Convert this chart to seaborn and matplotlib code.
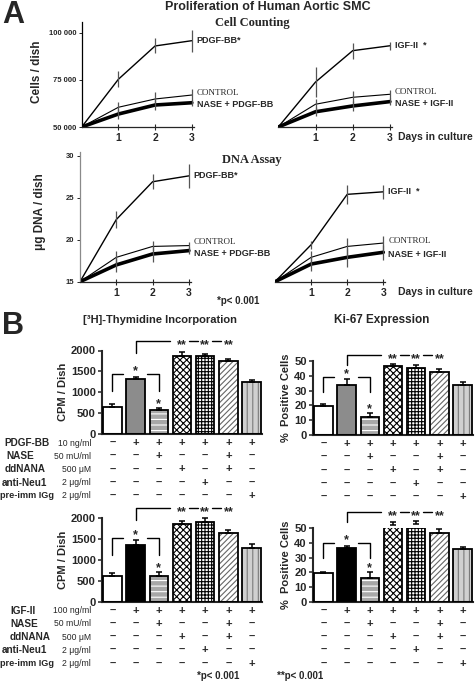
import numpy as np
import pandas as pd
import matplotlib
matplotlib.use("Agg")
import matplotlib.pyplot as plt
import matplotlib.transforms as mtrans
import seaborn as sns

# ---------------- data ----------------
days = [0, 1, 2, 3]

# A: cell counting (cells / dish)
cells_pdgf = [50000, 75400, 93100, 95900]
cells_pdgf_err = [0, 4300, 4000, 5800]
cells_ctrl_a = [50000, 60500, 64900, 67000]
cells_ctrl_a_err = [0, 3000, 3500, 3000]
cells_nase_pdgf = [50000, 56900, 61700, 62900]
cells_nase_pdgf_err = [0, 2500, 2500, 1500]

cells_igf = [50000, 73900, 90600, 93200]
cells_igf_err = [0, 8000, 4300, 2100]
cells_ctrl_b = [50000, 62100, 65800, 67400]
cells_ctrl_b_err = [0, 3000, 3500, 2500]
cells_nase_igf = [50000, 58100, 61200, 63500]
cells_nase_igf_err = [0, 2500, 2500, 2000]

# A: DNA assay (ug DNA / dish)
dna_pdgf = [15, 22.4, 26.9, 27.6]
dna_pdgf_err = [0, 1.05, 0.9, 1.4]
dna_ctrl_a = [15, 17.9, 19.2, 19.3]
dna_ctrl_a_err = [0, 0.8, 0.6, 0.4]
dna_nase_pdgf = [15, 17.0, 18.3, 18.7]
dna_nase_pdgf_err = [0, 0.8, 0.9, 0.4]

dna_igf = [15, 19.4, 25.4, 25.7]
dna_igf_err = [0, 0.5, 1.1, 0.8]
dna_ctrl_b = [15, 17.9, 19.2, 19.6]
dna_ctrl_b_err = [0, 0.8, 1.0, 0.8]
dna_nase_igf = [15, 17.1, 17.9, 18.5]
dna_nase_igf_err = [0, 0.8, 1.1, 0.9]

# B: bar charts, 7 conditions
thy_pdgf = [655, 1320, 583, 1880, 1880, 1743, 1240]
thy_pdgf_err = [65, 56, 48, 96, 32, 57, 56]
ki_pdgf = [19.6, 33.8, 12.4, 46.6, 45.5, 42.8, 33.8]
ki_pdgf_err = [1.2, 3.8, 2.3, 1.4, 1.8, 1.8, 2.3]
thy_igf = [620, 1370, 620, 1865, 1920, 1640, 1280]
thy_igf_err = [75, 100, 95, 80, 80, 75, 100]
ki_igf = [19.4, 36.4, 16.4, 52.3, 53.0, 46.6, 35.7]
ki_igf_err = [0.8, 1.8, 3.6, 1.8, 2.0, 2.8, 1.4]

# treatment table under the bars
growth_factor = ["-", "+", "+", "+", "+", "+", "+"]
nase = ["-", "-", "+", "-", "-", "+", "-"]
ddnana = ["-", "-", "-", "+", "-", "+", "-"]
anti_neu1 = ["-", "-", "-", "-", "+", "-", "-"]
pre_imm = ["-", "-", "-", "-", "-", "-", "+"]

names_pdgf = ["PDGF-BB", "NASE", "ddNANA", "anti-Neu1", "pre-imm IGg"]
concs_pdgf = ["10 ng/ml", "50 mU/ml", "500 \u03bcM", "2 \u03bcg/ml", "2 \u03bcg/ml"]
names_igf = ["IGF-II", "NASE", "ddNANA", "anti-Neu1", "pre-imm IGg"]
concs_igf = ["100 ng/ml", "50 mU/ml", "500 \u03bcM", "2 \u03bcg/ml", "2 \u03bcg/ml"]

# ---------------- style ----------------
sns.set_style("ticks")
SANS = ["Liberation Sans", "DejaVu Sans"]
SERIF = ["Liberation Serif", "DejaVu Serif"]
plt.rcParams["font.family"] = SANS
plt.rcParams["font.weight"] = "bold"
plt.rcParams["hatch.linewidth"] = 0.8

W, H = 475, 682
fig = plt.figure(figsize=(W / 100, H / 100), dpi=100)


def px_axes(x0, y_top, x1, y_bot):
    return fig.add_axes([x0 / W, 1 - y_bot / H, (x1 - x0) / W, (y_bot - y_top) / H])


def fx(x):
    return x / W


def fy(y):
    return 1 - y / H


# ---------------- panel A ----------------
def growth_panel(ax, series, ylim, yticks=None, yticklabels=None, spine_color="black"):
    for vals, errs, label, lw, fam, dy in series:
        sns.lineplot(x=days, y=vals, ax=ax, color="black", lw=lw, legend=False)
        ax.errorbar(days[1:], vals[1:], yerr=errs[1:], fmt="none",
                    ecolor="#555555", elinewidth=0.9, capsize=0, clip_on=False)
        ax.annotate(label, xy=(3, vals[-1]), xytext=(3.5, dy), textcoords="offset points",
                    va="center", ha="left", family=fam, size=6.5,
                    weight="normal" if fam is SERIF else "bold",
                    annotation_clip=False)
    ax.set_xlim(0, 3.05)
    ax.set_ylim(*ylim)
    ax.set_xticks([1, 2, 3])
    ax.set_xticklabels(["1", "2", "3"], size=7.5, weight="bold")
    ax.tick_params(axis="x", direction="inout", length=5, width=0.8, pad=2)
    ax.spines["top"].set_visible(False)
    ax.spines["right"].set_visible(False)
    ax.spines["bottom"].set_linewidth(0.9)
    if yticks is None:
        ax.spines["left"].set_visible(False)
        ax.set_yticks([])
    else:
        ax.spines["left"].set_color(spine_color)
        ax.spines["left"].set_linewidth(0.9)
        ax.set_yticks(yticks)
        ax.set_yticklabels(yticklabels, size=5.5, weight="bold")
        ax.tick_params(axis="y", length=2.5, width=0.7, pad=1.5)
    ax.set_xlabel("")
    ax.set_ylabel("")


axA1 = px_axes(81.7, 21.7, 81.7 + 3.05 * 36.7, 127)
growth_panel(axA1, [
    (cells_pdgf, cells_pdgf_err, "PDGF-BB*", 1.0, SANS, 0),
    (cells_ctrl_a, cells_ctrl_a_err, "CONTROL", 0.8, SERIF, 1.5),
    (cells_nase_pdgf, cells_nase_pdgf_err, "NASE + PDGF-BB", 2.6, SANS, -1),
], (50000, 106000), [50000, 75000, 100000], ["50 000", "75 000", "100 000"])

axA2 = px_axes(278.3, 21.7, 278.3 + 3.05 * 37.2, 127)
growth_panel(axA2, [
    (cells_igf, cells_igf_err, "IGF-II  *", 1.0, SANS, 0),
    (cells_ctrl_b, cells_ctrl_b_err, "CONTROL", 0.8, SERIF, 1.5),
    (cells_nase_igf, cells_nase_igf_err, "NASE + IGF-II", 2.6, SANS, -1),
], (50000, 106000))

axA3 = px_axes(80, 151.5, 80 + 3.05 * 36.3, 281.7)
growth_panel(axA3, [
    (dna_pdgf, dna_pdgf_err, "PDGF-BB*", 1.0, SANS, 0),
    (dna_ctrl_a, dna_ctrl_a_err, "CONTROL", 0.8, SERIF, 2.5),
    (dna_nase_pdgf, dna_nase_pdgf_err, "NASE + PDGF-BB", 2.6, SANS, -2),
], (15, 30.5), [15, 20, 25, 30], ["15", "20", "25", "30"], spine_color="#8a8a8a")

axA4 = px_axes(275, 151.5, 275 + 3.05 * 36.1, 281.7)
growth_panel(axA4, [
    (dna_igf, dna_igf_err, "IGF-II  *", 1.0, SANS, 0),
    (dna_ctrl_b, dna_ctrl_b_err, "CONTROL", 0.8, SERIF, 1.5),
    (dna_nase_igf, dna_nase_igf_err, "NASE + IGF-II", 2.6, SANS, -1.5),
], (15, 30.5))

fig.text(fx(2), fy(15), "A", size=22, weight="bold", va="center", ha="left")
fig.text(fx(268), fy(7), "Proliferation of Human Aortic SMC", size=9, weight="bold",
         ha="center", va="center")
fig.text(fx(252), fy(23), "Cell Counting", family=SERIF, size=9, weight="bold",
         ha="center", va="center")
fig.text(fx(252), fy(160), "DNA Assay", family=SERIF, size=9, weight="bold",
         ha="center", va="center")
fig.text(fx(37), fy(72), "Cells / dish", size=8.5, weight="bold",
         rotation=90, ha="center", va="center")
fig.text(fx(40), fy(212), "\u03bcg DNA / dish", size=8.5, weight="bold",
         rotation=90, ha="center", va="center")
fig.text(fx(473), fy(137), "Days in culture", size=7.5, weight="bold",
         ha="right", va="center")
fig.text(fx(473), fy(292), "Days in culture", size=7.5, weight="bold",
         ha="right", va="center")
fig.text(fx(217), fy(301), "*p< 0.001", size=7, weight="bold", ha="left", va="center")

# ---------------- panel B ----------------
FACES = ["white", None, "#a8a8a8", "white", "white", "white", "#d0d0d0"]
HATCHES = [None, None, "---", "xxxxx", "+++++", "//////", "|||"]
HATCH_COLORS = ["black", "black", "white", "black", "black", "#666666", "#7a7a7a"]
BAR_W = 0.79


def star(ax, x, y, text, dy=0.0):
    tr = mtrans.offset_copy(ax.transData, fig=fig, y=dy, units="points")
    ax.text(x, y, text, transform=tr, ha="center", va="baseline", size=9,
            weight="bold", clip_on=False)


def bar_panel(ax, vals, errs, second_color, ymax, ystep, ylabel):
    faces = [second_color if c is None else c for c in FACES]
    df = pd.DataFrame({"cond": [f"c{i}" for i in range(7)], "value": vals})
    sns.barplot(data=df, x="cond", y="value", hue="cond", palette=faces, legend=False,
                width=BAR_W, errorbar=None, saturation=1, linewidth=0, ax=ax)
    for i, p in enumerate(sorted(ax.patches, key=lambda q: q.get_x())):
        p.set_hatch(HATCHES[i])
        p.set_edgecolor(HATCH_COLORS[i])
        p.set_linewidth(0)
    pos = np.arange(7)
    ax.bar(pos, vals, width=BAR_W, fill=False, edgecolor="black", linewidth=1.3, zorder=3)
    ax.errorbar(pos, vals, yerr=[np.zeros(7), errs], fmt="none", ecolor="black",
                elinewidth=1.1, capsize=2.5, capthick=1.1, zorder=2, clip_on=False)
    ax.set_xlim(-0.45, 6.45)
    ax.set_ylim(0, ymax)
    ticks = np.arange(0, ymax + 1, ystep)
    ax.set_yticks(ticks)
    ax.set_yticklabels([f"{t:g}" for t in ticks], size=8, weight="bold")
    ax.set_xticks([])
    ax.set_xlabel("")
    ax.set_ylabel(ylabel, size=8, weight="bold", labelpad=2)
    ax.tick_params(axis="y", length=3, width=1.1, pad=1.5)
    for s in ("top", "right"):
        ax.spines[s].set_visible(False)
    for s in ("left", "bottom"):
        ax.spines[s].set_linewidth(1.5)

    kw = dict(color="black", lw=1.0, clip_on=False)
    low = vals[1] + errs[1] + 0.03 * ymax
    drop = 0.2 * ymax
    ax.plot([0, 0, 0.47], [low - drop, low, low], **kw)
    ax.plot([1.47, 2, 2], [low, low, low - drop], **kw)
    star(ax, 1, low, "*")
    star(ax, 2, vals[2] + errs[2] + 0.01 * ymax, "*")
    hi = max(v + e for v, e in zip(vals[3:6], errs[3:6])) + 0.12 * ymax
    ax.plot([1, 1, 2.48], [hi - 0.14 * ymax, hi, hi], **kw)
    ax.plot([3.3, 3.7], [hi, hi], **kw)
    ax.plot([4.3, 4.7], [hi, hi], **kw)
    for k in (3, 4, 5):
        star(ax, k, hi, "**", dy=-5.0)


def treatment_table(ax, bottom_px, names, concs, name_x):
    tr = mtrans.blended_transform_factory(ax.transData, fig.transFigure)
    rows = [growth_factor, nase, ddnana, anti_neu1, pre_imm]
    for r, signs in enumerate(rows):
        y = fy(bottom_px + 9 + r * 13.2)
        for k, s in enumerate(signs):
            ax.text(k, y, "+" if s == "+" else "\u2013", transform=tr, ha="center",
                    va="center", size=8, weight="bold", clip_on=False)
        if names is not None:
            fig.text(fx(name_x[r]), y, names[r], ha="left", va="center",
                     size=6.6 if r == 4 else 7.2, weight="bold")
            fig.text(fx(91), y, concs[r], ha="right", va="center", size=6.2,
                     weight="normal")


axB1 = px_axes(102, 350.5, 262, 434)
bar_panel(axB1, thy_pdgf, thy_pdgf_err, "#8c8c8c", 2000, 500, "CPM / Dish")
treatment_table(axB1, 434, names_pdgf, concs_pdgf, [4, 6, 5, 2, 0])

axB2 = px_axes(313, 361, 473, 435)
bar_panel(axB2, ki_pdgf, ki_pdgf_err, "#8c8c8c", 50, 10, "%  Positive Cells")
treatment_table(axB2, 435, None, None, None)

axB3 = px_axes(102, 518.3, 262, 601.7)
bar_panel(axB3, thy_igf, thy_igf_err, "black", 2000, 500, "CPM / Dish")
treatment_table(axB3, 601.7, names_igf, concs_igf, [10, 10, 10, 2, 0])

axB4 = px_axes(313, 528.3, 473, 601.7)
bar_panel(axB4, ki_igf, ki_igf_err, "black", 50, 10, "%  Positive Cells")
treatment_table(axB4, 601.7, None, None, None)

fig.text(fx(2), fy(326), "B", size=22, weight="bold", va="center", ha="left")
fig.text(fx(160), fy(320), "[\u00b3H]-Thymidine Incorporation", size=8, weight="bold",
         ha="center", va="center")
fig.text(fx(382), fy(320), "Ki-67 Expression", size=8.5, weight="bold",
         ha="center", va="center")
fig.text(fx(197), fy(676), "*p< 0.001", size=7, weight="bold", ha="left", va="center")
fig.text(fx(277), fy(676), "**p< 0.001", size=7, weight="bold", ha="left", va="center")

fig.savefig("out.png", dpi=100)
